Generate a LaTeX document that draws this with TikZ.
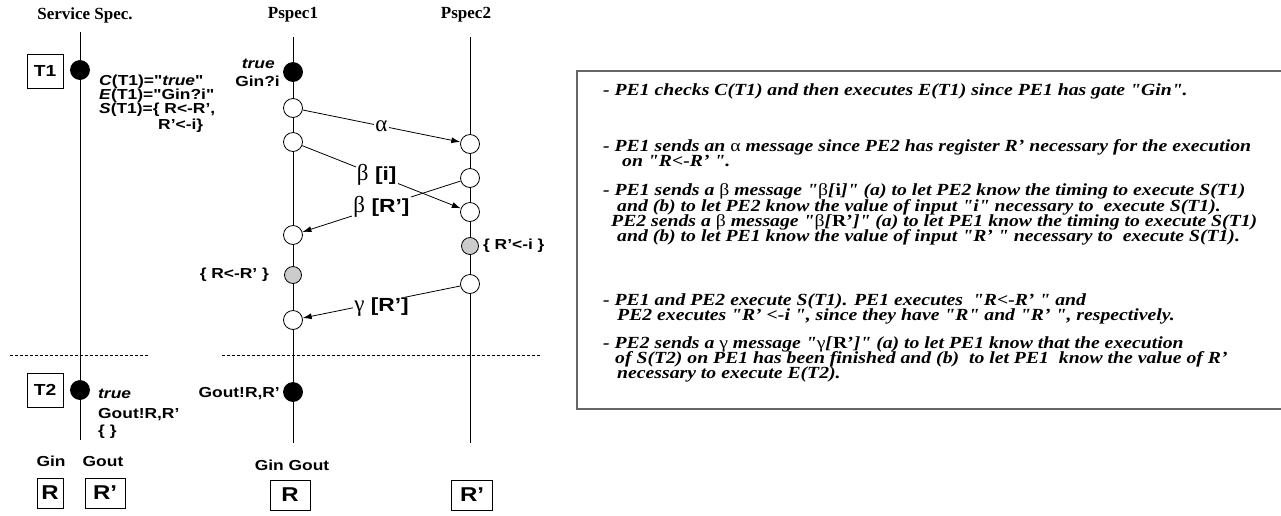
\documentclass[tikz,border=0pt]{standalone}
\usepackage{fontspec}
\setmainfont{Liberation Serif}
\newfontfamily\sansbold[FakeStretch=1.2]{Liberation Sans}
\newfontfamily\notefont[FakeStretch=1.16]{Liberation Serif}
\newfontfamily\greekfont{Liberation Serif}
\usetikzlibrary{positioning}
\usetikzlibrary{arrows.meta}
\newcommand{\grk}[1]{{\greekfont\mdseries\fontsize{23}{23}\selectfont #1}}
\newcommand{\up}[1]{{\upshape\mdseries #1}}

\begin{document}
\begin{tikzpicture}
	    [x=1pt, y=-1pt,
	    event/.style={circle, draw, fill=white, line width=0.8pt, minimum size=19pt, inner sep=0pt},
	    fired/.style={circle, draw, fill=black, line width=0.8pt, minimum size=19pt, inner sep=0pt},
	    update/.style={circle, draw, fill=gray!40, line width=0.8pt, minimum size=17pt, inner sep=0pt},
	    box/.style={draw, line width=0.8pt, inner sep=0pt, minimum height=30pt, font=\sansbold\bfseries\fontsize{20}{20}\selectfont},
	    trans/.style={box, minimum width=36pt, minimum height=34pt, font=\sansbold\bfseries\fontsize{16}{16}\selectfont},
	    lbl/.style={inner sep=0pt, font=\sansbold\bfseries\fontsize{14.5}{14}\selectfont},
	    title/.style={inner sep=0pt, font=\bfseries\fontsize{17}{17}\selectfont},
	    note/.style={anchor=base west, inner sep=0pt, font=\notefont\bfseries\itshape\fontsize{17}{15}\selectfont},
	    life/.style={line width=0.9pt},
	    sep/.style={line width=0.7pt, dash pattern=on 3pt off 2pt},
	    frame/.style={draw=black!60, line width=1.3pt},
	    msg/.style={-{Latex[length=9pt, width=6pt]}, line width=0.8pt},
	    mlabel/.style={fill=white, inner sep=1pt, font=\sansbold\bfseries\fontsize{19}{19}\selectfont}]
	     \useasboundingbox (0,0) rectangle (1281,515);
	     % lifelines
	     \coordinate (sstop) at (80,32);
	     \coordinate (ssbot) at (80,440);
	     \coordinate (p1top) at (293,37);
	     \coordinate (p1bot) at (293,443);
	     \coordinate (p2top) at (470,37);
	     \coordinate (p2bot) at (470,443);
	     \draw[life] (sstop) -- (ssbot);
	     \draw[life] (p1top) -- (p1bot);
	     \draw[life] (p2top) -- (p2bot);
	     \node[title] (SS) at (85,15)  {Service Spec.};
	     \node[title] (P1) at (293,15) {Pspec1};
	     \node[title] (P2) at (466,15) {Pspec2};
	     % phase separators
	     \coordinate (d1) at (10,355);
	     \coordinate (d2) at (150,355);
	     \coordinate (d3) at (222,355);
	     \coordinate (d4) at (541,355);
	     \draw[sep] (d1) -- (d2);
	     \draw[sep] (d3) -- (d4);
	     % service specification
	     \node[trans] (T1) at (45,71)  {T1};
	     \node[trans] (T2) at (45,390) {T2};
	     \node[fired] (S1) at (80,70)  {};
	     \node[fired] (S2) at (80,390) {};
	     \node[lbl, anchor=base west] (C1) at (99,85)   {\textit{C}(T1)="\textit{true}"};
	     \node[lbl, anchor=base west] (E1) at (99,99)   {\textit{E}(T1)="Gin?i"};
	     \node[lbl, anchor=base west] (F1) at (99,113)  {\textit{S}(T1)=\{ R<-R’,};
	     \node[lbl, anchor=base west] (F2) at (158,129) {R’<-i\}};
	     \node[lbl, anchor=base west] (C2) at (98,398)  {\textit{true}};
	     \node[lbl, anchor=base west] (E2) at (98,418)  {Gout!R,R’};
	     \node[lbl, anchor=base west] (F3) at (98,435)  {\{ \}};
	     % protocol entities
	     \node[fired]  (A0) at (293,72)  {};
	     \node[event]  (A1) at (293,108) {};
	     \node[event]  (A2) at (293,142) {};
	     \node[event]  (A3) at (293,235) {};
	     \node[update] (A4) at (293,275) {};
	     \node[event]  (A5) at (293,320) {};
	     \node[fired]  (A6) at (293,392) {};
	     \node[event]  (B1) at (470,144) {};
	     \node[event]  (B2) at (470,178) {};
	     \node[event]  (B3) at (470,212) {};
	     \node[update] (B4) at (470,246) {};
	     \node[event]  (B5) at (470,284) {};
	     \node[lbl, anchor=base east] (C3) at (275,68)  {\textit{true}};
	     \node[lbl, anchor=base east] (E3) at (280,86)  {Gin?i};
	     \node[lbl, anchor=base east] (E4) at (280,397) {Gout!R,R’};
	     \node[lbl, left=15pt of A4]  (U1) {\{ R<-R’ \}};
	     \node[lbl, right=4pt of B4]  (U2) {\{ R’<-i \}};
	     % messages
	     \draw[msg] (A1) -- node[mlabel] (M1) {\grk{α}} (B1);
	     \draw[msg] (A2) -- node[mlabel, pos=0.47] (M2) {\grk{β} [i]} (B3);
	     \draw[msg] (B2) -- node[mlabel] (M3) {\grk{β} [R’]} (A3);
	     \draw[msg] (B5) -- node[mlabel, yshift=-5pt] (M4) {\grk{γ} [R’]} (A5);
	     % registers
	     \node[lbl] (G1) at (51,461)  {Gin};
	     \node[lbl] (G2) at (103,461) {Gout};
	     \node[lbl] (G3) at (292,465) {Gin Gout};
	     \node[box, minimum width=26pt] (R1) at (50,493)  {R};
	     \node[box, minimum width=40pt] (R2) at (105,493) {R’};
	     \node[box, minimum width=40pt] (R3) at (290,495) {R};
	     \node[box, minimum width=41pt] (R4) at (472,495) {R’};
	     % explanation
	     \draw[frame] (577,71) rectangle (1290,409);
	     \node[note] (N1)  at (603,95)  {- PE1 checks C(T1) and then executes E(T1) since PE1 has gate "Gin".};
	     \node[note] (N2)  at (603,151) {- PE1 sends an \up{α} message since PE2 has register R’ necessary for the execution};
	     \node[note] (N3)  at (622,166) {on "R<-R’ ".};
	     \node[note] (N4)  at (603,195) {- PE1 sends a \up{β} message "\up{β}[\textup{i}]" (a) to let PE2 know the timing to execute S(T1)};
	     \node[note] (N5)  at (617,211) {and (b) to let PE2 know the value of input "i" necessary to\ \ execute S(T1).};
	     \node[note] (N6)  at (611,226) {PE2 sends a \up{β} message "\up{β}[\textup{R’}]" (a) to let PE1 know the timing to execute S(T1)};
	     \node[note] (N7)  at (617,241) {and (b) to let PE1 know the value of input "R’ " necessary to\ \ execute S(T1).};
	     \node[note] (N8)  at (603,305) {- PE1 and PE2 execute S(T1). PE1 executes\ \ "R<-R’ " and};
	     \node[note] (N9)  at (617,320) {PE2 executes "R’ <-i ", since they have "R" and "R’ ", respectively.};
	     \node[note] (N10) at (603,348) {- PE2 sends a \up{γ} message "\up{γ}[\textup{R’}]" (a) to let PE1 know that the execution};
	     \node[note] (N11) at (615,363) {of S(T2) on PE1 has been finished and (b)\ \ to let PE1\ \ know the value of R’};
	     \node[note] (N12) at (617,378) {necessary to execute E(T2).};
\end{tikzpicture}
\end{document}
